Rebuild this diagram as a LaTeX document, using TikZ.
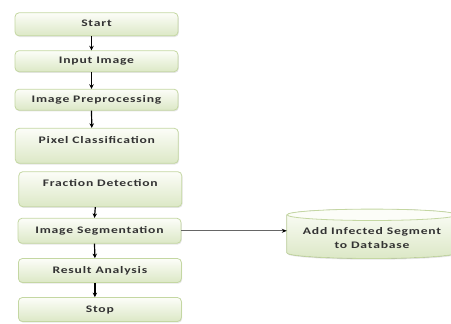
\documentclass[tikz,border=0pt]{standalone}
\usepackage{fontspec}
\setmainfont{Carlito}[FakeStretch=1.36, LetterSpace=8]
\usetikzlibrary{arrows.meta,shadows}

\definecolor{boxline}{HTML}{C4D7A2}
\definecolor{boxtop}{HTML}{FCFDF8}
\definecolor{boxbot}{HTML}{DCE8C6}
\definecolor{txt}{HTML}{333333}

\tikzset{
  flowbox/.style={draw=boxline, line width=0.8pt, rounded corners=4pt,
    top color=boxtop, bottom color=boxbot, minimum width=163pt,
    inner sep=0pt, text height=7pt, text depth=2pt, text=txt,
    font=\bfseries\fontsize{10}{12}\selectfont,
    drop shadow={shadow xshift=0.8pt, shadow yshift=-1.2pt, opacity=0.2, fill=gray}},
  tallbox/.style={flowbox, minimum height=35pt, text height=12pt, text depth=17pt},
  arr/.style={line width=1.2pt, -{Stealth[length=4.5pt,width=4.5pt]}},
  dbline/.style={draw=gray!80!black, line width=0.9pt, -{Stealth[length=5pt,width=4pt,color=black]}},
  dbtext/.style={align=center, text=txt, font=\bfseries\fontsize{10}{14}\selectfont},
}

\begin{document}
\begin{tikzpicture}[x=1pt,y=-1pt]
\useasboundingbox (0,0) rectangle (451,324);

% main flow
\node[flowbox, minimum height=23pt] (start) at (96.5,24.3) {Start};
\node[flowbox, minimum height=21pt] (input) at (96.5,61.2) {Input Image};
\node[flowbox, minimum height=21pt] (prep) at (96.5,99.7) {Image Preprocessing};
\node[tallbox] (pixel) at (96.8,145.8) {Pixel Classification};
\node[tallbox] (frac) at (100.3,189.2) {Fraction Detection};
\node[flowbox, minimum height=25pt] (seg) at (99.5,230.8) {Image Segmentation};
\node[flowbox, minimum height=24pt] (result) at (99.9,270.5) {Result Analysis};
\node[flowbox, minimum height=24pt] (stop) at (99.9,309.5) {Stop};

\foreach \a/\b in {start/input, input/prep, prep/pixel, frac/seg, seg/result, result/stop}
  \draw[arr] ([xshift=-5pt]\a.south) -- ([xshift=-5pt]\b.north);

% database cylinder
\node[minimum width=170pt, minimum height=37.6pt, inner sep=0pt] (db) at (372,233.8) {};
\fill[top color=boxtop, bottom color=boxbot,
  drop shadow={shadow xshift=0.8pt, shadow yshift=-1.2pt, opacity=0.2, fill=gray}]
  (db.north west) -- (db.south west)
  arc[start angle=180, end angle=360, x radius=85pt, y radius=5.7pt]
  -- (db.north east)
  arc[start angle=0, end angle=180, x radius=85pt, y radius=5.7pt] -- cycle;
\draw[boxline, line width=0.8pt]
  (db.north west) -- (db.south west)
  arc[start angle=180, end angle=360, x radius=85pt, y radius=5.7pt]
  -- (db.north east);
\draw[boxline, line width=0.8pt, fill=boxtop] (db.north) ellipse [x radius=85pt, y radius=5.7pt];
\node[dbtext] at ([yshift=-4pt]db.center) {Add Infected Segment\\to Database};

\draw[dbline] (seg.east) -- (seg.east -| db.west);
\end{tikzpicture}
\end{document}
